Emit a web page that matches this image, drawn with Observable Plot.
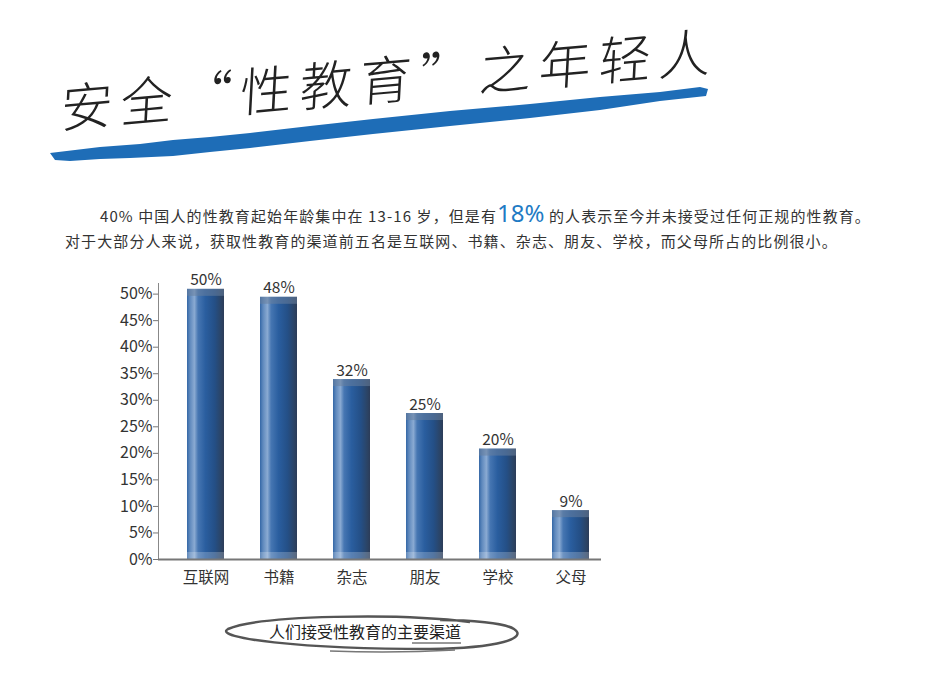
<!DOCTYPE html>
<html><head><meta charset="utf-8">
<script src="https://cdn.jsdelivr.net/npm/d3@7"></script>
<script src="https://cdn.jsdelivr.net/npm/@observablehq/plot@0.6"></script>
<style>
html,body{margin:0;padding:0;background:#fff;width:950px;height:690px;overflow:hidden;position:relative;font-family:"Noto Sans CJK SC","Noto Sans",sans-serif;}
#title{position:absolute;left:0;top:0;}
.para{position:absolute;font-size:15px;line-height:28px;color:#333;letter-spacing:1.1px;white-space:nowrap;}
.para .hl{font-size:24px;color:#1f7bc4;letter-spacing:0;font-family:"Noto Sans","Noto Sans CJK SC",sans-serif;}
#chart{position:absolute;left:0;top:250px;}
#caption{position:absolute;left:0;top:605px;}
</style></head><body>
<svg id="title" width="950" height="180">
  <path d="M50,153 L100,147 L140,144 L173,140 L210,137 L250,133 L310,126 L373,119 L450,111 L530,104 L600,97 L660,92 L700,87 L708,89 L706,96 L660,101 L600,110 L530,118 L450,126 L373,134 L310,141 L250,148 L210,152 L173,156 L130,158 L100,159 L70,161 L55,160 Z" fill="#1e6db7"/>
  <g transform="translate(60,128) rotate(-5) skewX(-8)">
    <text x="0" y="0" font-size="52" letter-spacing="8" fill="#222" font-family="'Noto Sans CJK SC',sans-serif" font-weight="300">安全“性教育”之年轻人</text>
  </g>
</svg>
<div class="para" style="left:100px;top:199px;">40% 中国人的性教育起始年龄集中在 13-16 岁，但是有<span class="hl">18%</span> 的人表示至今并未接受过任何正规的性教育。</div>
<div class="para" style="left:65px;top:227px;">对于大部分人来说，获取性教育的渠道前五名是互联网、书籍、杂志、朋友、学校，而父母所占的比例很小。</div>
<div id="chart"></div>
<svg id="caption" width="950" height="60">
  <path d="M470,17 C400,8 260,10 228,24 C212,33 300,44 430,44 C500,43 528,33 514,24 C505,18 470,15 440,15" fill="none" stroke="#555" stroke-width="2.5"/>
  <path d="M330,46 C380,48 420,47 455,45" fill="none" stroke="#777" stroke-width="1.5"/>
  <text x="365" y="33" text-anchor="middle" font-size="16" fill="#222" font-family="'Noto Sans CJK SC',sans-serif">人们接受性教育的主要渠道</text>
  <line x1="412" x2="461" y1="38" y2="38" stroke="#333" stroke-width="1"/>
</svg>
<script>
const categories = ["互联网","书籍","杂志","朋友","学校","父母"];
const labelValues = [50,48,32,25,20,9];
const barHeights = [50.9,49.4,33.9,27.5,20.8,9.2];
const yTicks = [0,5,10,15,20,25,30,35,40,45,50];

const data = categories.map((c,i)=>({cat:c, h:barHeights[i], label:labelValues[i]+"%"}));

const chart = Plot.plot({
  width: 700,
  height: 340,
  marginLeft: 158,
  marginRight: 99,
  marginTop: 33,
  marginBottom: 31,
  style: {fontFamily: "'Noto Sans CJK SC','Noto Sans',sans-serif", fontSize: "15px", color: "#333", background: "transparent"},
  x: {domain: categories, paddingInner: 0.5, paddingOuter: 0.25, align: 0.7, label: null},
  y: {domain: [0, 52], label: null},
  marks: [
    Plot.frame({anchor: "left", stroke: "#888"}),
    Plot.axisY({ticks: yTicks, tickFormat: d => d + "%", tickSize: 5, tickPadding: 1, fontSize: 16, stroke: "#777", fill: "#333", label: null}),
    Plot.axisX({tickSize: 0, tickPadding: 12, fontSize: 15.5, fill: "#333", label: null}),
    Plot.barY(data, {x: "cat", y: "h", fill: "url(#barGrad)"}),
    Plot.ruleY([0], {stroke: "#777", strokeWidth: 2}),
    Plot.text(data, {x: "cat", y: "h", text: "label", lineAnchor: "bottom", dy: -4, fontSize: 15.5, fill: "#333"})
  ]
});

// gradient defs
const svg = d3.select(chart.tagName.toLowerCase() === "svg" ? chart : chart.querySelector("svg"));
const defs = svg.insert("defs", ":first-child");
const g = defs.append("linearGradient").attr("id", "barGrad").attr("x1", "0").attr("x2", "1").attr("y1", "0").attr("y2", "0");
[[0,"#3467a6"],[0.08,"#5f89bd"],[0.2,"#8aaad2"],[0.3,"#4676b2"],[0.5,"#2a5e9f"],[0.75,"#244f86"],[0.92,"#2b4466"],[1,"#2c3c58"]]
  .forEach(([o,c]) => g.append("stop").attr("offset", o).attr("stop-color", c));

svg.selectAll('g[aria-label="bar"] rect').each(function(){
  const r = d3.select(this);
  const x = +r.attr("x"), y = +r.attr("y"), w = +r.attr("width"), h = +r.attr("height");
  const p = d3.select(this.parentNode);
  p.append("rect").attr("x", x).attr("y", y).attr("width", w).attr("height", 7).attr("fill", "#6a7f9c").attr("opacity", 0.55);
  p.append("rect").attr("x", x).attr("y", y + h - 7).attr("width", w).attr("height", 7).attr("fill", "#ffffff").attr("opacity", 0.22);
});

document.getElementById("chart").appendChild(chart);
</script>
</body></html>
